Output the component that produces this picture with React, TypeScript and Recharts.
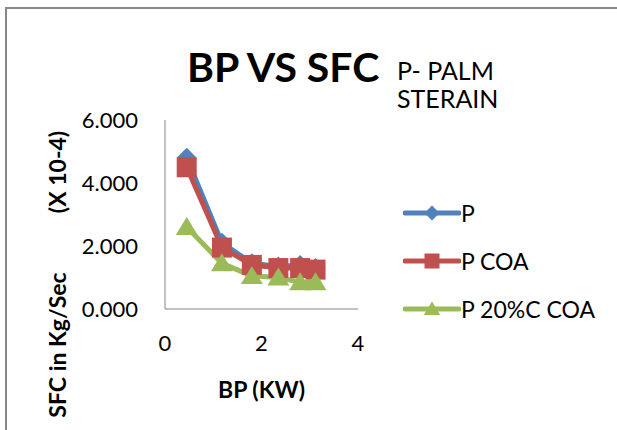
import { Legend, Line, LineChart, XAxis, YAxis } from 'recharts'

const BP = [0.45, 1.18, 1.8, 2.35, 2.8, 3.12]
const SFC_P = [4.8, 2.1, 1.45, 1.35, 1.4, 1.3]
const SFC_P_COA = [4.5, 1.95, 1.4, 1.3, 1.3, 1.25]
const SFC_P_20C_COA = [2.6, 1.45, 1.05, 1.0, 0.85, 0.85]
const X_TICKS = [0, 2, 4]
const Y_TICKS = [0, 2, 4, 6]

const SERIES = [
  { key: 'p', name: 'P', color: '#4F81BD', shape: 'diamond' },
  { key: 'pCoa', name: 'P COA', color: '#C0504D', shape: 'square' },
  { key: 'p20', name: 'P 20%C COA', color: '#9BBB59', shape: 'triangle' },
]

const data = BP.map((bp, i) => ({
  bp,
  p: SFC_P[i],
  pCoa: SFC_P_COA[i],
  p20: SFC_P_20C_COA[i],
}))

const FONT = 'Lato, "Open Sans", sans-serif'

function Marker({ shape, cx, cy, r, color }: { shape: string; cx: number; cy: number; r: number; color: string }) {
  if (shape === 'diamond') {
    return <path d={`M${cx},${cy - r}L${cx + r},${cy}L${cx},${cy + r}L${cx - r},${cy}Z`} fill={color} />
  }
  if (shape === 'square') {
    return <rect x={cx - r} y={cy - r} width={r * 2} height={r * 2} fill={color} />
  }
  return <path d={`M${cx},${cy - r}L${cx + r * 1.1},${cy + r * 0.8}L${cx - r * 1.1},${cy + r * 0.8}Z`} fill={color} />
}

function renderLegend() {
  return (
    <div style={{ fontFamily: FONT, fontSize: 23, color: '#000' }}>
      {SERIES.map((s) => (
        <div key={s.key} style={{ display: 'flex', alignItems: 'center', height: 48 }}>
          <svg width={58} height={20}>
            <line x1={2} y1={10} x2={56} y2={10} stroke={s.color} strokeWidth={5} strokeLinecap="round" />
            <Marker shape={s.shape} cx={29} cy={10} r={7.5} color={s.color} />
          </svg>
          <span>{s.name}</span>
        </div>
      ))}
    </div>
  )
}

function YLabel({ viewBox }: any) {
  const x = 66
  const top = viewBox.y
  return (
    <g fontFamily={FONT} fontWeight="bold" fontSize={23} fill="#000">
      <text transform={`translate(${x},${top + 52}) rotate(-90)`} textAnchor="middle">(X 10-4)</text>
      <text transform={`translate(${x},${top + 225}) rotate(-90)`} textAnchor="middle">SFC in Kg/Sec</text>
    </g>
  )
}

function XLabel({ viewBox }: any) {
  return (
    <text x={viewBox.x + viewBox.width / 2} y={viewBox.y + 89} textAnchor="middle" fontFamily={FONT} fontWeight="bold" fontSize={23} fill="#000">
      BP (KW)
    </text>
  )
}

export default function App() {
  return (
    <div style={{ position: 'absolute', left: 0, top: 0, width: 617, height: 430, background: '#fff', overflow: 'hidden' }}>
      <div style={{ position: 'absolute', left: 5, top: 7, width: 640, height: 460, borderLeft: '2px solid #878787', borderTop: '2px solid #878787' }} />
      <svg width={617} height={430} style={{ position: 'absolute', left: 0, top: 0 }}>
        <text x={187} y={82} fontFamily={FONT} fontWeight="bold" fontSize={41} fill="#000">BP VS SFC</text>
        <text fontFamily={FONT} fontSize={25} fill="#000">
          <tspan x={397} y={80}>P- PALM</tspan>
          <tspan x={397} y={108}>STERAIN</tspan>
        </text>
      </svg>
      <div style={{ position: 'absolute', left: 0, top: 0 }}>
        <LineChart width={617} height={430} data={data} margin={{ top: 120, right: 259, bottom: 91, left: 105 }}>
          <XAxis
            dataKey="bp"
            type="number"
            domain={[0, 4]}
            ticks={X_TICKS}
            height={30}
            tickLine={false}
            tickSize={6}
            tickMargin={20}
            stroke="#868686"
            tick={{ fill: '#000', fontSize: 22, fontFamily: FONT }}
            label={<XLabel />}
          />
          <YAxis
            type="number"
            domain={[0, 6]}
            ticks={Y_TICKS}
            width={60}
            tickLine={false}
            tickSize={6}
            tickMargin={21}
            stroke="#868686"
            tickFormatter={(v: number) => v.toFixed(3)}
            tick={{ fill: '#000', fontSize: 22, fontFamily: FONT }}
            label={<YLabel />}
          />
          <Legend
            layout="horizontal"
            verticalAlign="middle"
            align="center"
            content={renderLegend}
            wrapperStyle={{ position: 'absolute', left: 403, top: 189, width: 214 }}
          />
          {SERIES.map((s) => (
            <Line
              key={s.key}
              dataKey={s.key}
              name={s.name}
              stroke={s.color}
              strokeWidth={5}
              isAnimationActive={false}
              dot={(props: any) => <Marker key={`${s.key}-${props.index}`} shape={s.shape} cx={props.cx} cy={props.cy} r={10} color={s.color} />}
              activeDot={false}
            />
          ))}
        </LineChart>
      </div>
    </div>
  )
}
